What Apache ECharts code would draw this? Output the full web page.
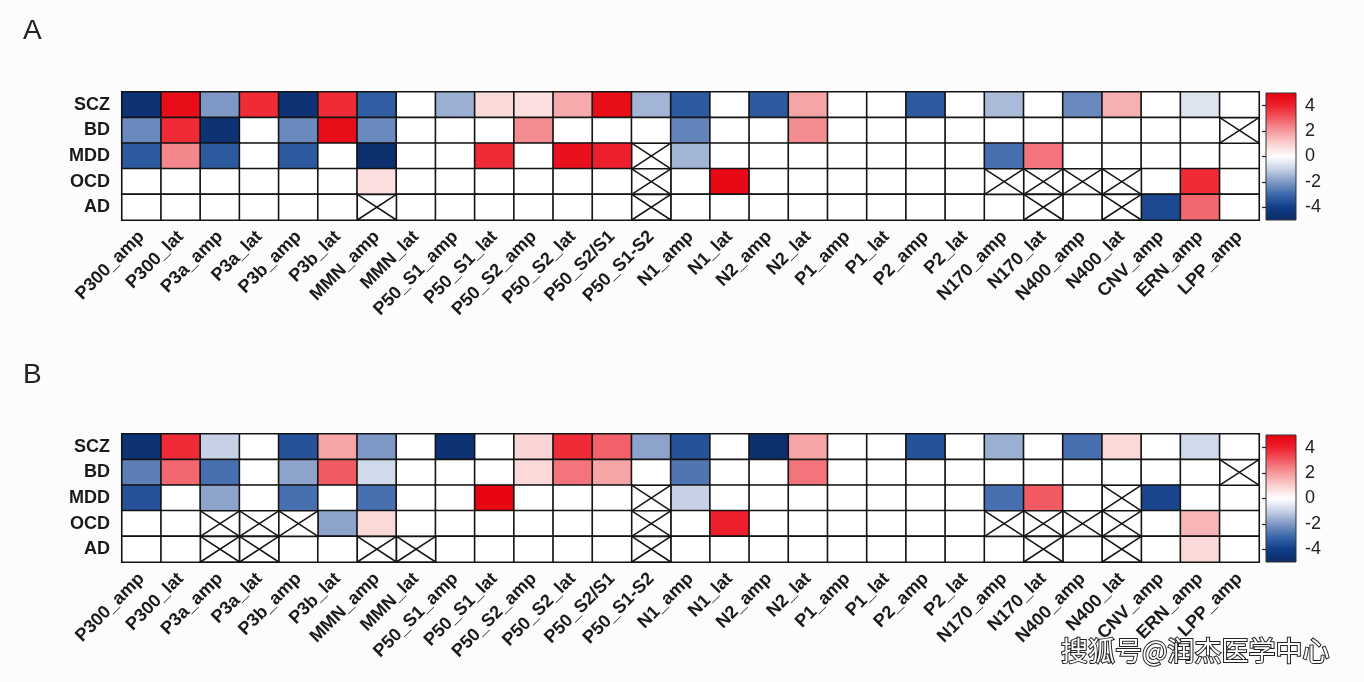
<!DOCTYPE html>
<html>
<head>
<meta charset="utf-8">
<title>ERP heatmap</title>
<script src="https://cdn.jsdelivr.net/npm/echarts@6/dist/echarts.min.js"></script>
<style>
    html, body {margin: 0; padding: 0; background: #fcfcfd;}
    #main {width: 1364px; height: 682px;}
</style>
</head>
<body>
<div id="main"></div>
<script>
// 横轴：ERP 指标
var cols = ['P300_amp', 'P300_lat', 'P3a_amp', 'P3a_lat', 'P3b_amp', 'P3b_lat', 'MMN_amp', 'MMN_lat',
    'P50_S1_amp', 'P50_S1_lat', 'P50_S2_amp', 'P50_S2_lat', 'P50_S2/S1', 'P50_S1-S2', 'N1_amp', 'N1_lat',
    'N2_amp', 'N2_lat', 'P1_amp', 'P1_lat', 'P2_amp', 'P2_lat', 'N170_amp', 'N170_lat', 'N400_amp',
    'N400_lat', 'CNV_amp', 'ERN_amp', 'LPP_amp'];
var groups = ['SCZ', 'BD', 'MDD', 'OCD', 'AD'];

// A 图，null = 没有数据（打叉）
var aSCZ = [-4.6, 4.6, -2.0, 3.8, -4.6, 3.8, -3.2, 0, -1.6, 0.8, 0.7, 1.7, 4.6, -1.5, -3.3, 0, -3.3, 1.8, 0, 0, -3.3, 0, -1.4, 0, -2.3, 1.6, 0, -0.6, 0];
var aBD = [-2.3, 3.8, -4.6, 0, -2.3, 4.6, -2.3, 0, 0, 0, 2.2, 0, 0, 0, -2.4, 0, 0, 2.2, 0, 0, 0, 0, 0, 0, 0, 0, 0, 0, null];
var aMDD = [-3.3, 2.3, -3.3, 0, -3.3, 0, -4.8, 0, 0, 3.8, 0, 4.5, 4.0, null, -1.5, 0, 0, 0, 0, 0, 0, 0, -2.8, 2.6, 0, 0, 0, 0, 0];
var aOCD = [0, 0, 0, 0, 0, 0, 0.7, 0, 0, 0, 0, 0, 0, null, 0, 4.7, 0, 0, 0, 0, 0, 0, null, null, null, null, 0, 3.8, 0];
var aAD = [0, 0, 0, 0, 0, 0, null, 0, 0, 0, 0, 0, 0, null, 0, 0, 0, 0, 0, 0, 0, 0, 0, null, 0, null, -3.7, 2.8, 0];

// B 图
var bSCZ = [-4.6, 3.8, -1.0, 0, -3.5, 1.8, -2.0, 0, -4.6, 0, 0.9, 3.8, 2.9, -1.8, -3.5, 0, -4.8, 1.8, 0, 0, -3.5, 0, -1.6, 0, -2.8, 0.8, 0, -0.8, 0];
var bBD = [-2.5, 2.8, -2.8, 0, -1.8, 3.0, -0.8, 0, 0, 0, 0.8, 2.6, 1.8, 0, -2.7, 0, 0, 2.6, 0, 0, 0, 0, 0, 0, 0, 0, 0, 0, null];
var bMDD = [-3.5, 0, -1.8, 0, -2.8, 0, -2.8, 0, 0, 4.8, 0, 0, 0, null, -1.0, 0, 0, 0, 0, 0, 0, 0, -2.8, 3.0, 0, null, -3.8, 0, 0];
var bOCD = [0, 0, null, null, null, -1.8, 0.8, 0, 0, 0, 0, 0, 0, null, 0, 4.0, 0, 0, 0, 0, 0, 0, null, null, null, null, 0, 1.5, 0];
var bAD = [0, 0, null, null, 0, 0, null, null, 0, 0, 0, 0, 0, null, 0, 0, 0, 0, 0, 0, 0, 0, 0, null, 0, null, 0, 0.8, 0];

// 色标
var barTicks = [-4, -2, 0, 2, 4];
var scaleMin = -5, scaleMax = 5;
var scaleColors = ['#0b2c68', '#0f3d85', '#3a66aa', '#7f98c6', '#c6d1e5', '#ffffff',
    '#fad0d0', '#f59a9d', '#f25a63', '#ee1f2c', '#e6000d'];

var font = 'Liberation Sans, Arial, sans-serif';

// 把每一行拆成热力图数据和打叉数据
function split(rows) {
    var heat = [], na = [];
    rows.forEach(function (row, y) {
        row.forEach(function (v, x) {
            if (v === null) {
                na.push([x, y]);
            } else {
                heat.push([x, y, v]);
            }
        });
    });
    return {heat: heat, na: na};
}

var dA = split([aSCZ, aBD, aMDD, aOCD, aAD]);
var dB = split([bSCZ, bBD, bMDD, bOCD, bAD]);

function renderNA(params, api) {
    var c = api.coord([api.value(0), api.value(1)]);
    var s = api.size([1, 1]);
    var x0 = c[0] - s[0] / 2, y0 = c[1] - s[1] / 2, x1 = x0 + s[0], y1 = y0 + s[1];
    var st = {stroke: '#141414', lineWidth: 1.5};
    return {
        type: 'group',
        children: [
            {type: 'rect', shape: {x: x0, y: y0, width: s[0], height: s[1]}, style: {fill: '#fff', stroke: '#141414', lineWidth: 1.6}},
            {type: 'line', shape: {x1: x0, y1: y0, x2: x1, y2: y1}, style: st},
            {type: 'line', shape: {x1: x0, y1: y1, x2: x1, y2: y0}, style: st}
        ]
    };
}

function renderBar(params, api) {
    var p0 = api.coord([0, scaleMax]);
    var p1 = api.coord([1, scaleMin]);
    var n = scaleColors.length - 1;
    var stops = scaleColors.map(function (c, i) {
        return {offset: 1 - i / n, color: c};
    }).reverse();
    return {
        type: 'rect',
        shape: {x: p0[0], y: p0[1], width: p1[0] - p0[0], height: p1[1] - p0[1]},
        style: {fill: new echarts.graphic.LinearGradient(0, 0, 0, 1, stops), stroke: '#333', lineWidth: 1}
    };
}

function catX(gi) {
    return {
        type: 'category', gridIndex: gi, data: cols,
        axisLine: {lineStyle: {color: '#111', width: 2}},
        axisTick: {alignWithLabel: true, length: 7, lineStyle: {color: '#111', width: 1.6}},
        axisLabel: {interval: 0, rotate: 45, margin: 14, fontSize: 18, fontWeight: 'bold', color: '#1a1a1a', fontFamily: font},
        splitArea: {show: false}
    };
}

function catY(gi) {
    return {
        type: 'category', gridIndex: gi, data: groups, inverse: true,
        axisLine: {lineStyle: {color: '#111', width: 2}},
        axisTick: {alignWithLabel: true, length: 8, lineStyle: {color: '#111', width: 1.6}},
        axisLabel: {margin: 12, fontSize: 18, fontWeight: 'bold', color: '#1a1a1a', fontFamily: font}
    };
}

function barX(gi) {
    return {type: 'value', gridIndex: gi, min: 0, max: 1, show: false};
}

function barY(gi, pos, labels) {
    return {
        type: 'value', gridIndex: gi, position: pos, min: scaleMin, max: scaleMax,
        splitLine: {show: false},
        axisLine: {show: false},
        axisTick: {show: true, inside: true, length: 4, customValues: barTicks, lineStyle: {color: '#222', width: 1.2}},
        axisLabel: {show: labels, customValues: barTicks, margin: 9, fontSize: 18, color: '#222', fontFamily: font}
    };
}

var myChart = echarts.init(document.getElementById('main'));

var option = {
    backgroundColor: '#fcfcfd',
    animation: false,
    title: [
        {text: 'A', left: 23, top: 17, padding: 0, textStyle: {fontSize: 28, fontWeight: 'normal', color: '#222', fontFamily: font}},
        {text: 'B', left: 23, top: 361, padding: 0, textStyle: {fontSize: 28, fontWeight: 'normal', color: '#222', fontFamily: font}}
    ],
    grid: [
        {left: 122, top: 92, width: 1137, height: 128, show: true, borderColor: '#111', borderWidth: 2, backgroundColor: 'transparent'},
        {left: 1266, top: 93, width: 30, height: 127},
        {left: 122, top: 434, width: 1137, height: 128, show: true, borderColor: '#111', borderWidth: 2, backgroundColor: 'transparent'},
        {left: 1266, top: 435, width: 30, height: 127}
    ],
    xAxis: [catX(0), barX(1), catX(2), barX(3)],
    yAxis: [catY(0), barY(1, 'right', true), barY(1, 'left', false), catY(2), barY(3, 'right', true), barY(3, 'left', false)],
    visualMap: [
        {show: false, seriesIndex: 0, min: scaleMin, max: scaleMax, inRange: {color: scaleColors}},
        {show: false, seriesIndex: 3, min: scaleMin, max: scaleMax, inRange: {color: scaleColors}}
    ],
    series: [
        {type: 'heatmap', xAxisIndex: 0, yAxisIndex: 0, data: dA.heat,
            itemStyle: {borderColor: '#141414', borderWidth: 1.6}, emphasis: {disabled: true}},
        {type: 'custom', xAxisIndex: 0, yAxisIndex: 0, data: dA.na, renderItem: renderNA, silent: true},
        {type: 'custom', xAxisIndex: 1, yAxisIndex: 1, data: [[0, 0]], renderItem: renderBar, silent: true},
        {type: 'heatmap', xAxisIndex: 2, yAxisIndex: 3, data: dB.heat,
            itemStyle: {borderColor: '#141414', borderWidth: 1.6}, emphasis: {disabled: true}},
        {type: 'custom', xAxisIndex: 2, yAxisIndex: 3, data: dB.na, renderItem: renderNA, silent: true},
        {type: 'custom', xAxisIndex: 3, yAxisIndex: 4, data: [[0, 0]], renderItem: renderBar, silent: true}
    ],
    graphic: [
        {type: 'text', left: 1060, top: 636, z: 100,
            style: {text: '搜狐号@润杰医学中心', fontSize: 27, fontFamily: 'Noto Sans CJK SC', fill: '#fff', stroke: '#222', lineWidth: 2}}
    ]
};

myChart.setOption(option);
</script>
</body>
</html>
